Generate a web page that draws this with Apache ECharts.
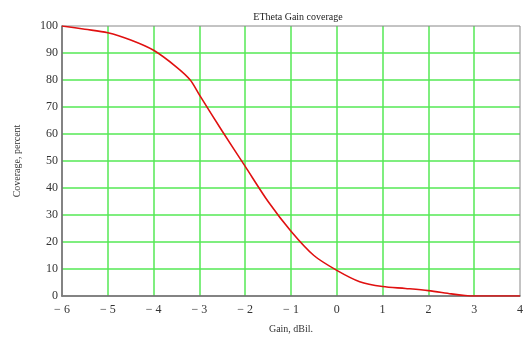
<!DOCTYPE html>
<html><head><meta charset="utf-8">
<script src="https://cdn.jsdelivr.net/npm/echarts@6/dist/echarts.min.js"></script>
<style>html,body{margin:0;padding:0;background:#fff}#c{width:526px;height:339px}</style>
</head><body><div id="c"></div>
<script>
var titleText = 'ETheta Gain coverage';
var xName = 'Gain, dBil.';
var yName = 'Coverage, percent';
var gainX = [-6, -5.5, -5, -4.5, -4, -3.5, -3.2, -3, -2.5, -2, -1.5, -1, -0.5, 0, 0.5, 1, 1.5, 2, 2.5, 2.8, 3, 3.5, 4];
var coverageY = [100, 98.8, 97.5, 94.8, 91, 84.8, 80, 74.5, 61, 48, 35, 24, 15, 9.5, 5.3, 3.5, 2.8, 2, 0.8, 0.2, 0, 0, 0];
var xTicks = [-6, -5, -4, -3, -2, -1, 0, 1, 2, 3, 4];
var yTicks = [0, 10, 20, 30, 40, 50, 60, 70, 80, 90, 100];

var font = 'Liberation Serif';
var chart = echarts.init(document.getElementById('c'), null, {renderer: 'canvas'});
chart.setOption({
  animation: false,
  backgroundColor: '#fff',
  title: {text: titleText, left: 293, textAlign: 'center', top: 7,
    textStyle: {fontFamily: font, fontSize: 10, fontWeight: 'normal', color: '#222'}},
  grid: {left: 62, right: 3, top: 26, bottom: 43, show: true, borderColor: '#888', borderWidth: 1, z: 3},
  xAxis: {type: 'value', min: xTicks[0], max: xTicks[xTicks.length-1], interval: 1,
    name: xName, nameLocation: 'middle', nameGap: 28,
    nameTextStyle: {fontFamily: font, fontSize: 10, color: '#333'},
    axisLine: {show: true, onZero: false, lineStyle: {color: '#555', width: 1.5}},
    axisTick: {show: false},
    axisLabel: {fontFamily: font, fontSize: 12, color: '#333', margin: 8,
      formatter: function(v){ return v < 0 ? '\u2212 ' + Math.abs(v) : String(v); }},
    splitLine: {show: true, showMinLine: false, showMaxLine: false, lineStyle: {color: '#55e855', width: 1.5}}},
  yAxis: {type: 'value', min: 0, max: 100, interval: 10,
    name: yName, nameLocation: 'middle', nameGap: 40,
    nameTextStyle: {fontFamily: font, fontSize: 10, color: '#333'},
    axisLine: {show: true, onZero: false, lineStyle: {color: '#555', width: 1.5}},
    axisTick: {show: false},
    axisLabel: {fontFamily: font, fontSize: 12, color: '#333', margin: 4},
    splitLine: {show: true, showMinLine: false, showMaxLine: false, lineStyle: {color: '#55e855', width: 1.5}}},
  series: [{type: 'line', data: gainX.map(function(x,i){return [x, coverageY[i]];}),
    smooth: 0.3, showSymbol: false, lineStyle: {color: '#e01010', width: 1.6}, z: 5}]
});
</script></body></html>
